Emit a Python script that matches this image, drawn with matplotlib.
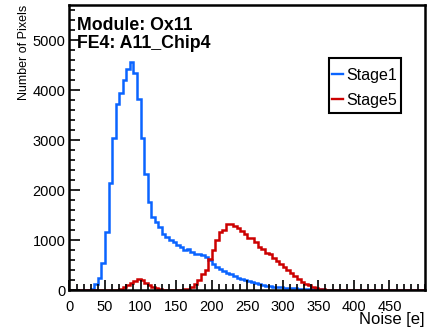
import numpy as np
import matplotlib
matplotlib.use("Agg")
import matplotlib.pyplot as plt
from matplotlib.ticker import MultipleLocator
from matplotlib.patches import Rectangle
from matplotlib.lines import Line2D

plt.rcParams['font.family'] = ['Liberation Sans', 'DejaVu Sans']

# histogram bins: 0..500 in steps of 5
bin_edges = np.arange(0, 505, 5)

# Stage1 counts per bin
stage1 = [0, 0, 0, 0, 0, 0, 30, 120, 250, 550,
          1170, 2150, 3050, 3730, 3950, 4200, 4430, 4570, 4350, 3820,
          3040, 2320, 1770, 1470, 1370, 1270, 1130, 1070, 1000, 970,
          900, 870, 800, 830, 760, 730, 720, 700, 670, 600,
          530, 470, 430, 390, 350, 320, 280, 250, 220, 200,
          180, 165, 140, 120, 100, 90, 80, 70, 60, 53,
          45, 40, 35, 33, 30, 25, 22, 18, 15, 13,
          12, 10, 9, 8, 7, 6, 5, 5, 4, 4,
          3, 3, 3, 2, 2, 2, 2, 1, 1, 1,
          1, 1, 0, 0, 0, 0, 0, 0, 0, 0]

# Stage5 counts per bin
stage5 = [0, 0, 0, 0, 0, 0, 0, 0, 0, 0,
          0, 0, 0, 0, 30, 60, 100, 150, 190, 220,
          200, 150, 100, 60, 40, 20, 10, 5, 5, 5,
          8, 10, 15, 30, 60, 130, 200, 320, 400, 620,
          800, 1000, 1170, 1200, 1320, 1320, 1290, 1250, 1180, 1130,
          1040, 1050, 960, 870, 830, 750, 720, 640, 580, 520,
          470, 400, 340, 280, 220, 170, 130, 100, 70, 45,
          25, 15, 8, 3, 2, 1, 0, 0, 0, 0,
          0, 0, 0, 0, 0, 0, 0, 0, 0, 0,
          0, 0, 0, 0, 0, 0, 0, 0, 0, 0]

series_names = ['Stage1', 'Stage5']
series_colors = ['#0a64ff', '#cc0000']

W, H = 431, 336
fig = plt.figure(figsize=(W / 100, H / 100), dpi=100)
ax = fig.add_axes([69.5 / W, 1 - 290 / H, (425 - 69.5) / W, (290 - 5) / H])

for vals, name, col in zip([stage1, stage5], series_names, series_colors):
    ax.stairs(vals, bin_edges, color=col, lw=1.8, baseline=None, label=name)

ax.set_xlim(0, 500)
ax.set_ylim(0, 5700)

ax.xaxis.set_major_locator(MultipleLocator(50))
ax.xaxis.set_minor_locator(MultipleLocator(10))
ax.yaxis.set_major_locator(MultipleLocator(1000))
ax.yaxis.set_minor_locator(MultipleLocator(200))
ax.tick_params(which='both', direction='in', top=False, right=False,
               labelsize=10.5, width=1.2, colors='black')
ax.tick_params(axis='x', which='major', length=7, pad=7)
ax.tick_params(axis='y', which='major', length=8, pad=3)
ax.tick_params(which='minor', length=4)
ax.set_xticks(np.arange(0, 500, 50))
ax.set_xticklabels([str(v) for v in range(0, 500, 50)])

for s in ax.spines.values():
    s.set_linewidth(1.8)

ax.set_xlabel('Noise [e]', fontsize=12, loc='right', labelpad=-1)
ax.set_ylabel('Number of Pixels', fontsize=9, loc='top', labelpad=2)

def fx(px):
    return px / W

def fy(py):
    return 1 - py / H

fig.text(fx(77), fy(30), 'Module: Ox11', fontsize=12.8, fontweight='bold',
         va='baseline', ha='left')
fig.text(fx(77), fy(48), 'FE4: A11_Chip4', fontsize=12.8, fontweight='bold',
         va='baseline', ha='left')

# legend box drawn in ROOT style
fig.patches.append(Rectangle((fx(329), fy(112.5)), fx(400.5) - fx(329),
                             fy(58) - fy(112.5), transform=fig.transFigure,
                             facecolor='white', edgecolor='black', lw=1.5,
                             zorder=5))
for i, (name, col) in enumerate(zip(series_names, series_colors)):
    yy = 74 + 25 * i
    fig.lines.append(Line2D([fx(332), fx(343)], [fy(yy), fy(yy)],
                            transform=fig.transFigure, color=col, lw=1.7,
                            zorder=6))
    fig.text(fx(346), fy(yy), name, fontsize=11.5, va='center_baseline',
             ha='left', zorder=6)

fig.savefig('out.png', dpi=100)
